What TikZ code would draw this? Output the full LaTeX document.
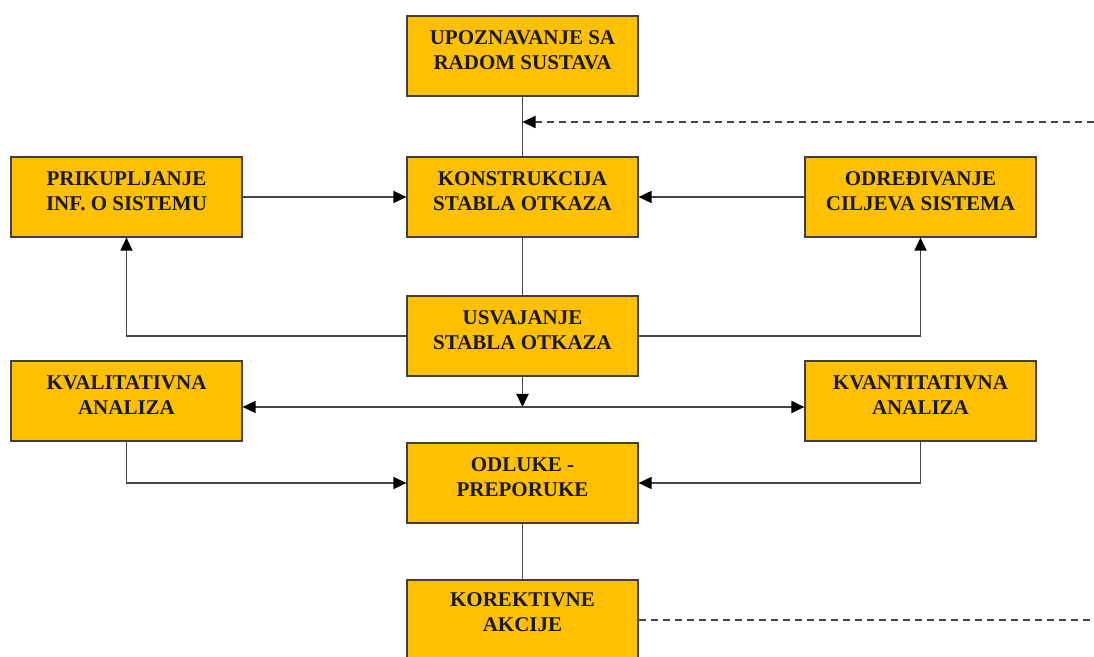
\documentclass[tikz,border=0pt]{standalone}
\usepackage{fontspec}
\setmainfont{Liberation Serif}
\usetikzlibrary{arrows.meta}
\begin{document}
\begin{tikzpicture}[x=0.5pt,y=-0.5pt,
  box/.style={draw=black!75,line width=0.6pt,fill=boxfill,minimum width=115.5pt,minimum height=40pt,inner sep=0pt,
    font=\bfseries\fontsize{10.5}{12.5}\selectfont,align=center,text=black!90,text depth=6pt},
  conn/.style={draw=black!72,line width=0.9pt},
  tip/.style={-{Triangle[length=6.5pt,width=6pt,fill=black,color=black]}},
  arr/.style={conn,tip},
  dsh/.style={conn,dash pattern=on 3.5pt off 2.5pt}]
\definecolor{boxfill}{HTML}{FFC000}
\clip (0,0) rectangle (1094,657);
\useasboundingbox (0,0) rectangle (1094,657);
\node[box] (upo) at (522.5,56) {UPOZNAVANJE SA\\RADOM SUSTAVA};
\node[box] (kon) at (522.5,197) {KONSTRUKCIJA\\STABLA OTKAZA};
\node[box] (pri) at (126.5,197) {PRIKUPLJANJE\\INF. O SISTEMU};
\node[box] (odr) at (920.5,197) {ODREĐIVANJE\\CILJEVA SISTEMA};
\node[box] (usv) at (522.5,336) {USVAJANJE\\STABLA OTKAZA};
\node[box] (kvl) at (126.5,401) {KVALITATIVNA\\ANALIZA};
\node[box] (kvn) at (920.5,401) {KVANTITATIVNA\\ANALIZA};
\node[box] (odl) at (522.5,483) {ODLUKE -\\PREPORUKE};
\node[box,minimum height=44pt,text depth=12pt] (kor) at (522.5,624) {KOREKTIVNE\\AKCIJE};
\coordinate (d1) at (1094,122);
\coordinate (d2) at (1094,620);
\coordinate (j1) at (522.5,122);
\coordinate (j2) at (522.5,407);
% lines
\draw[conn] (upo.south) -- (kon.north);
\draw[dsh,tip] (d1) -- (j1);
\draw[arr] (pri.east) -- (kon.west);
\draw[arr] (odr.west) -- (kon.east);
\draw[conn] (kon.south) -- (usv.north);
\draw[arr] (usv.west) -| (pri.south);
\draw[arr] (usv.east) -| (odr.south);
\draw[arr] (usv.south) -- (j2);
\draw[arr] (j2) -- (kvl.east |- j2);
\draw[arr] (j2) -- (kvn.west |- j2);
\draw[arr] (kvl.south) |- (odl.west);
\draw[arr] (kvn.south) |- (odl.east);
\draw[conn] (odl.south) -- (kor.north);
\draw[dsh] (kor.east |- d2) -- (d2);
\end{tikzpicture}
\end{document}
